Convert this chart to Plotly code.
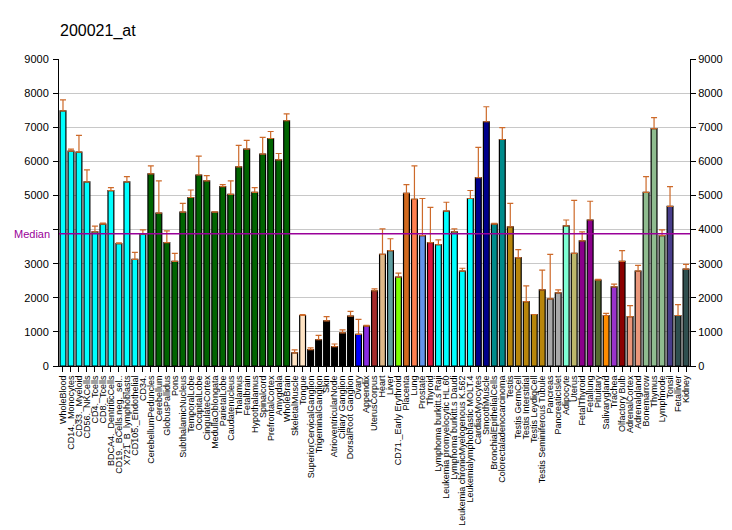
import plotly.graph_objects as go

title = "200021_at"

categories = [
    "WholeBlood", "CD14._Monocytes", "CD33._Myeloid", "CD56._NKCells", "CD4._Tcells",
    "CD8._Tcells", "BDCA4._DentriticCells", "CD19._BCells.neg._sel..", "X721_B_lymphoblasts",
    "CD105._Endothelial", "CD34.",
    "CerebellumPeduncles", "Cerebellum", "GlobusPallidus", "Pons", "SubthalamicNucleus",
    "TemporalLobe", "OccipitalLobe", "CingulateCortex", "MedullaOblongata", "ParietalLobe",
    "Caudatenucleus", "Thalamus", "Fetalbrain", "Hypothalamus", "Spinalcord",
    "PrefrontalCortex", "Amygdala", "WholeBrain",
    "SkeletalMuscle", "Tongue", "SuperiorCervicalGanglion", "TrigeminalGanglion", "Skin",
    "AtrioventricularNode", "Ciliary Ganglion", "DorsalRoot Ganglion", "Ovary", "Appendix",
    "UterusCorpus", "Heart", "Liver", "CD71._Early Erythroid", "Placenta", "Lung",
    "Prostate", "Thyroid", "Lymphoma burkitt.s Raji", "Leukemia promyelocytic HL.60",
    "Lymphoma burkitt.s Daudi", "Leukemia chronicMyelogenous K.562",
    "Leukemialymphoblastic MOLT.4", "CardiacMyocytes", "SmoothMuscle",
    "BronchialEpithelialCells", "Colorectaladenocarcinoma", "Testis", "Testis GermCell",
    "Testis Interstitial", "Testis LeydigCell", "Testis Seminiferous Tubule", "Pancreas",
    "PancreaticIslet", "Adipocyte", "Uterus", "FetalThyroid", "Fetallung", "Pituitary",
    "Salivarygland", "Trachea", "Olfactory Bulb", "AdrenalCortex", "Adrenalgland",
    "Bonemarrow", "Thymus", "Lymphnode", "Tonsil", "Fetalliver", "Kidney",
]

values = [
    7480, 6300, 6270, 5400, 3930, 4160, 5140, 3590, 5400, 3125, 3865,
    5630, 4480, 3615, 3070, 4510, 4940, 5600, 5430, 4510, 5260, 5030, 5840, 6360,
    5090, 6210, 6670, 6040, 7190,
    385, 1480, 480, 770, 1320, 570, 970, 1460, 930, 1170, 2200, 3270, 3385, 2605,
    5060, 4885, 3820, 3615, 3560, 4540, 3930, 2780, 4910, 5520, 7160, 4160, 6640,
    4080, 3180, 1885, 1510, 2230, 1970, 2145, 4105, 3300, 3670, 4280, 2520, 1480,
    2320, 3070, 1450, 2780, 5090, 6960, 3820, 4680, 1480, 2840,
]

errors_top = [
    7800, 6360, 6760, 5750, 4100, 4190, 5230, 3610, 5550, 3330, 3990,
    5865, 5430, 3960, 3300, 4770, 5160, 6150, 5580, 4520, 5320, 5430, 6470, 6615,
    5230, 6700, 6875, 6230, 7390,
    470, 1510, 530, 900, 1450, 645, 1060, 1600, 1365, 1190, 2260, 4020, 3730, 2720,
    5320, 5865, 4910, 4650, 3700, 4800, 4020, 2865, 5145, 6410, 7600, 4180, 6990,
    4770, 3410, 2350, 1510, 2810, 3270, 2230, 4280, 4855, 3930, 4830, 2540, 1540,
    2400, 3385, 1770, 2950, 5550, 7280, 3990, 5260, 1800, 2980,
]

colors = (
    ["#00FFFF"] * 11 + ["#006400"] * 18 +
    ["#FFE4C4", "#FFE4C4"] + ["#000000"] * 6 +
    ["#0000FF", "#8A2BE2", "#A52A2A", "#DEB887", "#5F9EA0", "#7FFF00", "#D2691E",
     "#FF7F50", "#6495ED", "#DC143C"] +
    ["#00FFFF"] * 5 + ["#00008B", "#00008B", "#008B8B", "#008B8B"] +
    ["#B8860B"] * 5 + ["#A9A9A9", "#A9A9A9", "#7FFFD4", "#BDB76B", "#8B008B", "#8B008B",
     "#556B2F", "#FF8C00", "#9932CC", "#8B0000", "#E9967A", "#E9967A",
     "#8FBC8F", "#8FBC8F", "#8FBC8F", "#483D8B", "#2F4F4F", "#2F4F4F"]
)

median_value = 3875
y_ticks = [0, 1000, 2000, 3000, 4000, 5000, 6000, 7000, 8000, 9000]
y_left_text = ["0", "1000", "2000", "3000", "", "5000", "6000", "7000", "8000", "9000"]
y_right_text = [str(v) for v in y_ticks]

err_plus = [max(t - v, 0) for t, v in zip(errors_top, values)]
xpos = list(range(len(categories)))

fig = go.Figure()
fig.add_trace(go.Bar(
    x=xpos, y=values, customdata=categories,
    marker=dict(color=colors, line=dict(color="#000000", width=1.2)),
    error_y=dict(type="data", symmetric=False, array=err_plus,
                 arrayminus=[0] * len(values), color="#CD6A2A", thickness=1.2, width=3),
    showlegend=False, hovertemplate="%{customdata}: %{y}<extra></extra>",
))
fig.add_trace(go.Scatter(x=[0], y=[0], yaxis="y2", mode="markers",
                         marker=dict(opacity=0), showlegend=False, hoverinfo="skip"))

fig.add_shape(type="line", xref="paper", yref="y", x0=0, x1=1,
              y0=median_value, y1=median_value,
              line=dict(color="#990099", width=1.5))
fig.add_annotation(text="Median", xref="paper", yref="y", x=0, y=median_value,
                   xanchor="right", yanchor="middle", xshift=-7, showarrow=False,
                   font=dict(family="Arial", size=11, color="#990099"))

axis_font = dict(family="Arial", size=11, color="#000000")
fig.update_layout(
    width=732, height=530,
    margin=dict(l=51, r=50, t=51, b=167),
    paper_bgcolor="white", plot_bgcolor="white",
    title=dict(text=title, x=52 / 732, xanchor="left", y=1 - 22 / 530, yanchor="middle",
               font=dict(family="Arial", size=16, color="#000000")),
    bargap=0.27,
    xaxis=dict(showline=True, linecolor="#000000", linewidth=1,
               tickmode="array", tickvals=xpos, ticktext=categories,
               ticks="outside", ticklen=5, tickcolor="#000000", tickangle=-90,
               tickfont=dict(family="Arial", size=9, color="#000000"),
               showgrid=False, zeroline=False, range=[-0.5, len(categories) - 0.5]),
    yaxis=dict(range=[0, 9000], tickmode="array", tickvals=y_ticks, ticktext=y_left_text,
               showline=True, linecolor="#000000",
               linewidth=1, ticks="outside", ticklen=5, tickcolor="#000000",
               ticklabelstandoff=2,
               showgrid=True, gridcolor="#C8C8C8", gridwidth=1, tickfont=axis_font,
               zeroline=False),
    yaxis2=dict(range=[0, 9000], tickmode="array", tickvals=y_ticks, ticktext=y_right_text,
                overlaying="y", side="right",
                showline=True, linecolor="#000000", linewidth=1, ticks="outside",
                ticklen=5, tickcolor="#000000", showgrid=False, tickfont=axis_font,
                zeroline=False),
)

fig.write_html("out.html")
